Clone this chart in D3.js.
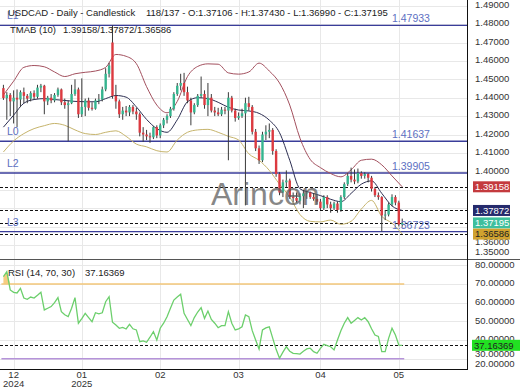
<!DOCTYPE html>
<html>
<head>
<meta charset="utf-8">
<script src="https://cdn.jsdelivr.net/npm/d3@7"></script>
<style>
body { margin: 0; background: #fff; }
svg { display: block; font-family: "Liberation Sans", Arial, sans-serif; }
</style>
</head>
<body>
<svg id="svg" width="520" height="390"></svg>
<script>
// daily candles, bar index 0..117
var opens = [1.4452,1.4398,1.4415,1.4380,1.4400,1.4390,1.4430,1.4410,1.4395,1.4425,
  1.4405,1.4455,1.4465,1.4380,1.4400,1.4385,1.4415,1.4445,1.4375,1.4360,
  1.4370,1.4420,1.4445,1.4310,1.4350,1.4385,1.4345,1.4340,1.4385,1.4390,
  1.4445,1.4530,1.4700,1.4410,1.4380,1.4310,1.4330,1.4320,1.4350,1.4325,
  1.4310,1.4210,1.4200,1.4190,1.4185,1.4240,1.4195,1.4250,1.4280,1.4300,
  1.4340,1.4420,1.4465,1.4480,1.4430,1.4385,1.4320,1.4360,1.4410,1.4420,
  1.4360,1.4400,1.4330,1.4320,1.4310,1.4335,1.4330,1.4400,1.4330,1.4290,
  1.4300,1.4315,1.4370,1.4350,1.4215,1.4125,1.4060,1.4200,1.4215,1.4225,
  1.4110,1.3985,1.3885,1.3940,1.3950,1.3860,1.3855,1.3840,1.3865,1.3880,
  1.3885,1.3860,1.3850,1.3835,1.3800,1.3860,1.3820,1.3800,1.3825,1.3790,
  1.3860,1.3930,1.3975,1.3955,1.3945,1.3990,1.3975,1.3985,1.3965,1.3905,
  1.3870,1.3860,1.3760,1.3765,1.3820,1.3860,1.3830,1.37106];
var highs = [1.4470,1.4430,1.4425,1.4440,1.4445,1.4440,1.4455,1.4420,1.4435,1.4440,
  1.4470,1.4475,1.4470,1.4410,1.4420,1.4425,1.4455,1.4450,1.4395,1.4385,
  1.4470,1.4500,1.4455,1.4505,1.4395,1.4400,1.4375,1.4395,1.4420,1.4460,
  1.4560,1.4590,1.4793,1.4470,1.4390,1.4350,1.4355,1.4360,1.4360,1.4345,
  1.4320,1.4240,1.4225,1.4210,1.4245,1.4250,1.4260,1.4290,1.4310,1.4350,
  1.4430,1.4480,1.4530,1.4535,1.4460,1.4400,1.4370,1.4420,1.4515,1.4440,
  1.4480,1.4420,1.4350,1.4345,1.4350,1.4350,1.4430,1.4410,1.4340,1.4320,
  1.4340,1.4400,1.4405,1.4360,1.4230,1.4140,1.4215,1.4250,1.4260,1.4235,
  1.4120,1.3995,1.3955,1.4005,1.3960,1.3885,1.3885,1.3880,1.3900,1.3895,
  1.3890,1.3880,1.3870,1.3850,1.3870,1.3870,1.3835,1.3835,1.3835,1.3870,
  1.3940,1.3990,1.4020,1.4010,1.4015,1.4000,1.3995,1.3990,1.3975,1.3915,
  1.3885,1.3865,1.3790,1.3830,1.3875,1.3870,1.3840,1.37430];
var lows = [1.4388,1.4280,1.4300,1.4260,1.4240,1.4350,1.4370,1.4370,1.4380,1.4390,
  1.4395,1.4430,1.4310,1.4360,1.4370,1.4375,1.4405,1.4360,1.4340,1.4164,
  1.4365,1.4410,1.4290,1.4295,1.4300,1.4330,1.4330,1.4335,1.4365,1.4380,
  1.4435,1.4510,1.4395,1.4340,1.4290,1.4280,1.4300,1.4300,1.4310,1.4280,
  1.4190,1.4160,1.4170,1.4155,1.4175,1.4180,1.4180,1.4235,1.4260,1.4290,
  1.4330,1.4410,1.4440,1.4410,1.4370,1.4250,1.4310,1.4350,1.4400,1.4340,
  1.4300,1.4320,1.4300,1.4300,1.4300,1.4310,1.4060,1.4320,1.4270,1.4280,
  1.4290,1.3815,1.4330,1.4200,1.4110,1.4040,1.4050,1.4170,1.4180,1.4090,
  1.3970,1.3870,1.3860,1.3915,1.3850,1.3830,1.3830,1.3820,1.3800,1.3850,
  1.3850,1.3840,1.3820,1.3790,1.3790,1.3800,1.3775,1.3790,1.3775,1.3780,
  1.3850,1.3920,1.3940,1.3930,1.3935,1.3960,1.3960,1.3940,1.3890,1.3860,
  1.3845,1.36723,1.3735,1.3755,1.3810,1.3815,1.3700,1.36990];
var closes = [1.4398,1.4415,1.4380,1.4400,1.4390,1.4430,1.4410,1.4395,1.4425,1.4405,
  1.4455,1.4465,1.4380,1.4400,1.4385,1.4415,1.4445,1.4375,1.4360,1.4370,
  1.4420,1.4445,1.4310,1.4350,1.4385,1.4345,1.4340,1.4385,1.4390,1.4445,
  1.4530,1.4575,1.4410,1.4380,1.4310,1.4330,1.4320,1.4350,1.4325,1.4310,
  1.4210,1.4200,1.4190,1.4185,1.4240,1.4195,1.4250,1.4280,1.4300,1.4340,
  1.4420,1.4465,1.4480,1.4430,1.4385,1.4320,1.4360,1.4410,1.4420,1.4360,
  1.4400,1.4330,1.4320,1.4310,1.4335,1.4330,1.4400,1.4330,1.4290,1.4300,
  1.4315,1.4370,1.4350,1.4215,1.4125,1.4060,1.4200,1.4215,1.4225,1.4110,
  1.3985,1.3885,1.3940,1.3950,1.3860,1.3855,1.3840,1.3865,1.3880,1.3885,
  1.3860,1.3850,1.3835,1.3800,1.3860,1.3820,1.3800,1.3825,1.3790,1.3860,
  1.3930,1.3975,1.3955,1.3945,1.3990,1.3975,1.3985,1.3965,1.3905,1.3870,
  1.3860,1.3760,1.3765,1.3820,1.3860,1.3830,1.37106,1.37195];

// TMAB (10) bands, one value every third bar (bars 0, 3, ... 117)
var bandStep = 3;
var upperBand = [1.4415,1.4490,1.4565,1.4575,1.4568,1.4540,1.4515,1.4530,1.4538,1.4545,
  1.4565,1.4635,1.4625,1.4585,1.4460,1.4360,1.4318,1.4380,1.4515,1.4570,
  1.4584,1.4582,1.4535,1.4528,1.4540,1.4588,1.4545,1.4480,1.4360,1.4180,
  1.4065,1.4020,1.3988,1.3970,1.4008,1.4060,1.4066,1.4035,1.3975,1.39158];
var midBand = [1.4240,1.4305,1.4370,1.4390,1.4395,1.4390,1.4385,1.4380,1.4378,1.4378,
  1.4395,1.4412,1.4403,1.4350,1.4282,1.4232,1.4212,1.4280,1.4378,1.4400,
  1.4395,1.4375,1.4348,1.4333,1.4328,1.4315,1.4278,1.4210,1.4060,1.3905,
  1.3885,1.3868,1.3848,1.3835,1.3880,1.3930,1.3948,1.3880,1.3812,1.37872];
var lowerBand = [1.4105,1.4165,1.4205,1.4232,1.4248,1.4260,1.4250,1.4225,1.4205,1.4200,
  1.4212,1.4220,1.4190,1.4148,1.4133,1.4112,1.4105,1.4170,1.4212,1.4225,
  1.4228,1.4212,1.4190,1.4170,1.4095,1.4060,1.4005,1.3930,1.3860,1.3765,
  1.3728,1.3725,1.3735,1.3712,1.3728,1.3795,1.3842,1.3755,1.3718,1.36586];

var rsi = [73.9,76.6,66.8,65.5,65.2,67.7,62.5,61.8,63.0,62.5,
  64.0,65.6,56.1,57.0,57.9,60.0,62.7,55.2,53.5,52.5,
  57.0,62.7,49.0,51.5,54.3,52.0,49.8,54.6,54.0,54.6,
  60.5,63.2,49.5,48.0,46.3,46.8,45.9,48.4,46.0,45.4,
  39.1,39.5,38.8,41.5,44.5,40.0,46.3,49.0,52.5,57.0,
  61.4,63.0,64.5,54.3,51.0,47.7,52.0,55.0,57.3,51.6,
  55.5,51.0,49.0,46.6,47.7,47.7,55.2,49.0,45.4,46.0,
  47.1,53.4,52.5,45.0,40.0,35.2,45.4,46.5,47.1,41.0,
  35.0,30.2,33.5,36.4,34.0,32.9,32.7,32.5,34.0,35.2,
  35.6,33.8,32.9,35.5,37.7,37.0,36.4,34.7,40.0,45.0,
  49.0,52.0,49.0,50.5,52.0,50.7,52.0,49.8,46.0,42.7,
  41.9,33.8,33.8,40.9,46.3,42.7,37.3,37.16369];

var levelNames = ["L1", "L0", "L2", "L3"];
var levelValues = [1.47933, 1.41637, 1.39905, 1.36723];
var bandNow = [1.39158, 1.37872, 1.36586];

var priceTicks = [1.35,1.36,1.37,1.38,1.39,1.40,1.41,1.42,1.43,1.44,1.45,1.46,1.47,1.48,1.49];
var rsiTicks = [20,30,40,50,60,70,80];
var monthBars = [3, 23, 46, 69, 93, 116];
var monthLabels = ["12", "01", "02", "03", "04", "05"];
var yearLabels = ["2024", "2025", "", "", "", ""];

var svg = d3.select("#svg"),
    plotW = 467,
    mainH = 259,
    rsiTop = 260,
    rsiBottom = 369;

var upColor = "#35b58f", downColor = "#dc3a40", levelColor = "#3a3d9a";
var fmt = d3.format(".5f");

var x = d3.scaleLinear().domain([-1, 136]).range([0, plotW]);
var y = d3.scaleLinear().domain([1.35234, 1.49310]).range([mainH, 0]);
var yr = d3.scaleLinear().domain([24.48, 82.85]).range([rsiBottom, rsiTop]);

var bars = d3.range(closes.length);
var bandBars = d3.range(0, closes.length, bandStep);
var last = closes.length - 1;

var defs = svg.append("defs");
defs.append("clipPath").attr("id", "mainClip")
  .append("rect").attr("x", 0).attr("y", 0).attr("width", plotW).attr("height", mainH);
defs.append("clipPath").attr("id", "rsiClip")
  .append("rect").attr("x", 0).attr("y", rsiTop).attr("width", plotW).attr("height", rsiBottom - rsiTop);

// grid
var grid = svg.append("g").attr("stroke", "#e8e8e8").attr("stroke-width", 1);
grid.selectAll(".hp")
  .data(priceTicks.filter(function(d) { return y(d) >= 0 && y(d) <= mainH; }))
  .enter().append("line")
    .attr("x1", 0).attr("x2", plotW)
    .attr("y1", function(d) { return Math.round(y(d)) + 0.5; })
    .attr("y2", function(d) { return Math.round(y(d)) + 0.5; });
grid.selectAll(".hr")
  .data(rsiTicks.filter(function(d) { return yr(d) >= rsiTop && yr(d) <= rsiBottom; }))
  .enter().append("line")
    .attr("x1", 0).attr("x2", plotW)
    .attr("y1", function(d) { return Math.round(yr(d)) + 0.5; })
    .attr("y2", function(d) { return Math.round(yr(d)) + 0.5; });
grid.selectAll(".v").data(monthBars).enter().append("line")
  .attr("x1", function(d) { return Math.round(x(d)) + 0.5; })
  .attr("x2", function(d) { return Math.round(x(d)) + 0.5; })
  .attr("y1", 0).attr("y2", rsiBottom);

var main = svg.append("g").attr("clip-path", "url(#mainClip)");

// support / resistance levels
main.selectAll(".lvl").data(levelValues).enter().append("line")
  .attr("x1", 0).attr("x2", plotW)
  .attr("y1", function(d) { return y(d); }).attr("y2", function(d) { return y(d); })
  .attr("stroke", levelColor).attr("stroke-width", 1.4);

// current value lines
var dashVals = bandNow.concat([closes[last]]);
main.selectAll(".dash").data(dashVals).enter().append("line")
  .attr("x1", 0).attr("x2", plotW)
  .attr("y1", function(d) { return Math.round(y(d)) + 0.5; })
  .attr("y2", function(d) { return Math.round(y(d)) + 0.5; })
  .attr("stroke", "#111").attr("stroke-width", 1).attr("stroke-dasharray", "3,2");

// bands
var bandColors = ["#a3505e", "#2c2e52", "#c6b46c"];
[upperBand, midBand, lowerBand].forEach(function(band, k) {
  var line = d3.line()
    .x(function(d, i) { return x(bandBars[i]); })
    .y(function(d) { return y(d); })
    .curve(d3.curveMonotoneX);
  main.append("path").datum(band)
    .attr("fill", "none").attr("stroke", bandColors[k]).attr("stroke-width", 1)
    .attr("d", line);
});

// candles
var cw = 2.4;
var candle = main.selectAll(".candle").data(bars).enter().append("g");
candle.append("line")
  .attr("x1", function(i) { return x(i); }).attr("x2", function(i) { return x(i); })
  .attr("y1", function(i) { return y(highs[i]); }).attr("y2", function(i) { return y(lows[i]); })
  .attr("stroke", "#3a3a3a").attr("stroke-width", 1);
candle.append("rect")
  .attr("x", function(i) { return x(i) - cw / 2; })
  .attr("width", cw)
  .attr("y", function(i) { return y(Math.max(opens[i], closes[i])); })
  .attr("height", function(i) { return Math.max(1, Math.abs(y(opens[i]) - y(closes[i]))); })
  .attr("fill", function(i) { return closes[i] >= opens[i] ? upColor : downColor; });

// watermark
svg.append("text")
  .attr("x", 211).attr("y", 205)
  .attr("font-size", 32).attr("fill", "#5a5a5a").attr("opacity", 0.72)
  .text("Arincen");

// level labels
svg.selectAll(".lname").data(levelValues).enter().append("text")
  .attr("x", 7).attr("y", function(d) { return y(d) - 6; })
  .attr("font-size", 10.5).attr("fill", "#5d70c2")
  .text(function(d, i) { return levelNames[i]; });
svg.selectAll(".lval").data(levelValues).enter().append("text")
  .attr("x", 392).attr("y", function(d) { return y(d) - 3; })
  .attr("font-size", 10.5).attr("fill", "#5d70c2")
  .text(function(d) { return fmt(d); });

// header
var head = svg.append("g").attr("font-size", 9.5).attr("fill", "#222");
head.append("text").attr("x", 8).attr("y", 16).text("USDCAD - Daily - Candlestick");
head.append("text").attr("x", 146).attr("y", 16)
  .text((last + 1) + "/137 - O:" + fmt(opens[last]) + " - H:" + fmt(highs[last]) +
        " - L:" + fmt(lows[last]) + " - C:" + fmt(closes[last]));
head.append("text").attr("x", 10).attr("y", 33).text("TMAB (10)");
head.append("text").attr("x", 63).attr("y", 33).text(bandNow.map(fmt).join("/"));

// RSI panel
var rsiG = svg.append("g").attr("clip-path", "url(#rsiClip)");
var xEnd = x(last) + 2;
rsiG.append("path").datum(rsi)
  .attr("fill", "#f5c46c").attr("opacity", 0.85)
  .attr("d", d3.area()
    .x(function(d, i) { return x(i); })
    .y0(yr(70))
    .y1(function(d) { return yr(Math.max(d, 70)); }));
rsiG.append("line").attr("x1", x(0) - 2).attr("x2", xEnd)
  .attr("y1", yr(70)).attr("y2", yr(70)).attr("stroke", "#f3c77a").attr("stroke-width", 1.5);
rsiG.append("line").attr("x1", x(0) - 2).attr("x2", xEnd)
  .attr("y1", yr(30)).attr("y2", yr(30)).attr("stroke", "#b593d9").attr("stroke-width", 1.5);
rsiG.append("line").attr("x1", 0).attr("x2", plotW)
  .attr("y1", Math.round(yr(rsi[last])) + 0.5).attr("y2", Math.round(yr(rsi[last])) + 0.5)
  .attr("stroke", "#111").attr("stroke-dasharray", "3,2");
rsiG.append("path").datum(rsi)
  .attr("fill", "none").attr("stroke", "#6ccf6c").attr("stroke-width", 1.3)
  .attr("d", d3.line().x(function(d, i) { return x(i); }).y(function(d) { return yr(d); }));

svg.append("text").attr("x", 8).attr("y", 276).attr("font-size", 9.5).attr("fill", "#222")
  .text("RSI (14, 70, 30)");
svg.append("text").attr("x", 85).attr("y", 276).attr("font-size", 9.5).attr("fill", "#222")
  .text(fmt(rsi[last]));

// frame
svg.append("line").attr("x1", 0).attr("x2", 520).attr("y1", 259.5).attr("y2", 259.5)
  .attr("stroke", "#555");
svg.append("line").attr("x1", 0).attr("x2", plotW + 1).attr("y1", rsiBottom + 0.5).attr("y2", rsiBottom + 0.5)
  .attr("stroke", "#111");
svg.append("line").attr("x1", plotW + 0.5).attr("x2", plotW + 0.5).attr("y1", 0).attr("y2", rsiBottom + 1)
  .attr("stroke", "#111");

// value boxes on the right axis
var boxVals = [bandNow[0], bandNow[1], closes[last], bandNow[2]];
var boxFill = ["#c43a3e", "#252a6c", "#3ebf9d", "#d0a22f"];
var boxText = ["#fff", "#fff", "#fff", "#222"];

// right axis labels, pushed apart from the bottom; labels sitting under a box are not drawn
function stackLabels(ticks, scale, bottom) {
  var out = [], prev = bottom + 10;
  ticks.slice().sort(d3.ascending).forEach(function(t) {
    var p = Math.min(scale(t), bottom, prev - 10);
    out.push([t, p]);
    prev = p;
  });
  return out;
}
var priceLabels = stackLabels(priceTicks, y, 253).filter(function(d) {
  return boxVals.every(function(v) { return Math.abs(y(v) - d[1]) > 8; });
});
var axisG = svg.append("g").attr("font-size", 9.5).attr("fill", "#333");
axisG.selectAll(".pl").data(priceLabels).enter().append("text")
  .attr("x", 475).attr("y", function(d) { return d[1] - 1; }).attr("dy", "0.35em")
  .text(function(d) { return fmt(d[0]); });
axisG.selectAll(".rl").data(stackLabels(rsiTicks, yr, 365)).enter().append("text")
  .attr("x", 475).attr("y", function(d) { return d[1] - 1; }).attr("dy", "0.35em")
  .text(function(d) { return fmt(d[0]); });

boxVals.forEach(function(v, k) {
  svg.append("rect").attr("x", 473).attr("y", y(v) - 5.5).attr("width", 37).attr("height", 11)
    .attr("fill", boxFill[k]);
  svg.append("text").attr("x", 475).attr("y", y(v)).attr("dy", "0.35em")
    .attr("font-size", 9.5).attr("fill", boxText[k]).text(fmt(v));
});
svg.append("rect").attr("x", 472).attr("y", yr(rsi[last]) - 5.5).attr("width", 48).attr("height", 11)
  .attr("fill", "#22e022");
svg.append("text").attr("x", 474).attr("y", yr(rsi[last])).attr("dy", "0.35em")
  .attr("font-size", 9.5).attr("fill", "#222").text(fmt(rsi[last]));

// month axis
var mx = svg.append("g").attr("font-size", 9.5).attr("fill", "#333").attr("text-anchor", "middle");
mx.selectAll(".m").data(monthBars).enter().append("text")
  .attr("x", function(d) { return x(d); }).attr("y", 378)
  .text(function(d, i) { return monthLabels[i]; });
mx.selectAll(".yy").data(monthBars).enter().append("text")
  .attr("x", function(d) { return x(d); }).attr("y", 387)
  .text(function(d, i) { return yearLabels[i]; });
</script>
</body>
</html>
